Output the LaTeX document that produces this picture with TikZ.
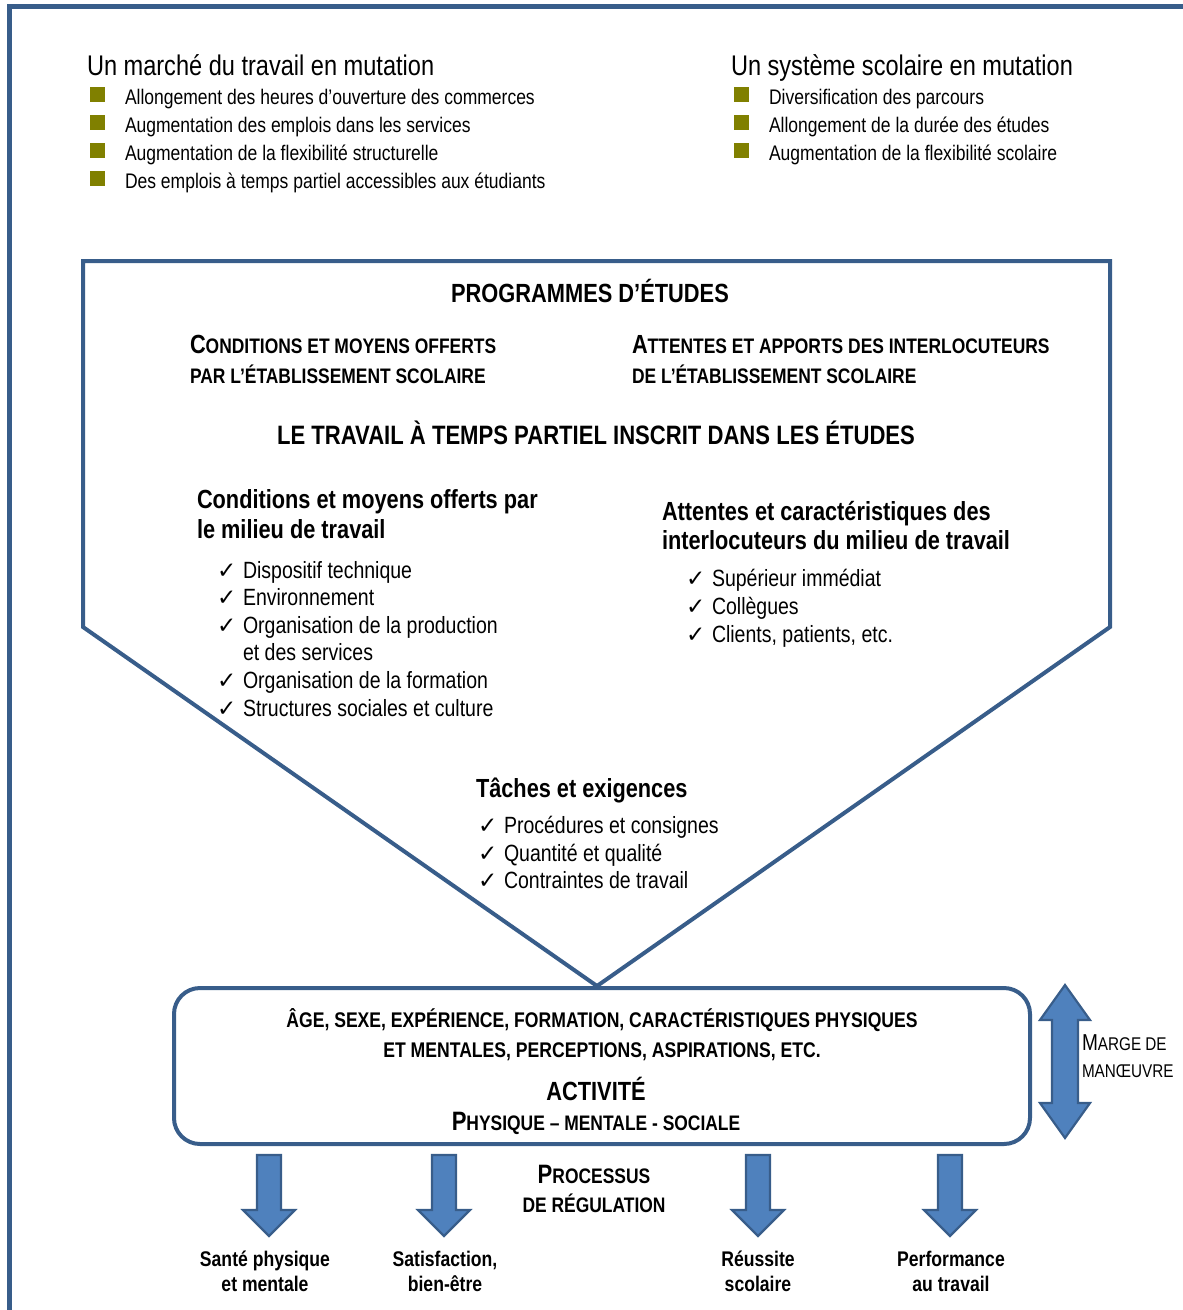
\documentclass[tikz,border=0pt]{standalone}
\usepackage{fontspec}
\setmainfont{Liberation Sans}[FakeStretch=0.83]
\newfontfamily\symfont{DejaVu Sans Bold}
\definecolor{frameblue}{RGB}{56,93,138}
\definecolor{fillblue}{RGB}{79,129,189}
\definecolor{bulletolive}{RGB}{128,128,0}
\newcommand\fs[2]{\fontsize{#1}{#2}\selectfont}
\newcommand\lowcaps[1]{{\fontsize{21}{25}\selectfont #1}}
\newcommand\chk{\makebox[26pt][l]{\symfont\fontsize{23}{24}\selectfont ✓}}
\tikzset{
  txt/.style={inner sep=0pt, outer sep=0pt, text=black},
  sqbullet/.style={fill=bulletolive, minimum size=15pt, inner sep=0pt},
  bullettext/.style={txt, anchor=base west, font=\fs{21.1}{24}},
  listitem/.style={txt, anchor=base west, font=\fs{23.5}{27}},
  heading/.style={txt, anchor=base west, font=\bfseries\fs{26.2}{30}},
  outcome/.style={txt, anchor=base, font=\bfseries\fs{21.2}{25}},
  blockarrow/.style={draw=frameblue, fill=fillblue, line width=2.2pt, line join=miter},
}
% block arrow pointing down, centred on x
\newcommand\blockdown[1]{%
  \draw[blockarrow] (#1-12,1155) -- (#1+12,1155) -- (#1+12,1210) -- (#1+26,1210)
    -- (#1,1236) -- (#1-26,1210) -- (#1-12,1210) -- cycle;}
\begin{document}
\begin{tikzpicture}[x=1pt,y=-1pt]
\useasboundingbox (0,0) rectangle (1183,1310);

% outer frame (open at right and bottom)
\draw[frameblue, line width=5pt] (9,1315) -- (9,6) -- (1190,6);

% ---- labour market column ----
\node[txt, anchor=base west, font=\fs{28.4}{32}] (lmt) at (87,75) {Un marché du travail en mutation};
\node[sqbullet] (lb1) at (97,94) {};
\node[sqbullet] (lb2) at (97,122) {};
\node[sqbullet] (lb3) at (97,150) {};
\node[sqbullet] (lb4) at (97,178) {};
\node[bullettext] (lt1) at (125,104) {Allongement des heures d’ouverture des commerces};
\node[bullettext] (lt2) at (125,132) {Augmentation des emplois dans les services};
\node[bullettext] (lt3) at (125,160) {Augmentation de la flexibilité structurelle};
\node[bullettext] (lt4) at (125,188) {Des emplois à temps partiel accessibles aux étudiants};

% ---- school system column ----
\node[txt, anchor=base west, font=\fs{28.4}{32}] (sst) at (731,75) {Un système scolaire en mutation};
\node[sqbullet] (sb1) at (741,94) {};
\node[sqbullet] (sb2) at (741,122) {};
\node[sqbullet] (sb3) at (741,150) {};
\node[bullettext] (st1) at (769,104) {Diversification des parcours};
\node[bullettext] (st2) at (769,132) {Allongement de la durée des études};
\node[bullettext] (st3) at (769,160) {Augmentation de la flexibilité scolaire};

% ---- funnel ----
\draw[frameblue, line width=4pt, line join=miter]
  (83,261) -- (1110,261) -- (1110,627) -- (597,986) -- (83,627) -- cycle;

\node[txt, anchor=base, font=\bfseries\fs{26.3}{30}] (prog) at (590,302) {PROGRAMMES D’ÉTUDES};
\node[heading] (cm1) at (190,353) {C\lowcaps{ONDITIONS ET MOYENS OFFERTS}};
\node[heading] (cm2) at (190,383) {\lowcaps{PAR L’ÉTABLISSEMENT SCOLAIRE}};
\node[heading] (aa1) at (632,353) {A\lowcaps{TTENTES ET APPORTS DES INTERLOCUTEURS}};
\node[heading] (aa2) at (632,383) {\lowcaps{DE L’ÉTABLISSEMENT SCOLAIRE}};
\node[txt, anchor=base, font=\bfseries\fs{26.6}{30}] (trav) at (596,444) {LE TRAVAIL À TEMPS PARTIEL INSCRIT DANS LES ÉTUDES};

\node[heading] (cw1) at (197,508) {Conditions et moyens offerts par};
\node[heading] (cw2) at (197,538) {le milieu de travail};
\node[listitem] (cl1) at (217,578) {\chk Dispositif technique};
\node[listitem] (cl2) at (217,605) {\chk Environnement};
\node[listitem] (cl3) at (217,633) {\chk Organisation de la production};
\node[listitem] (cl3b) at (243,660) {et des services};
\node[listitem] (cl4) at (217,688) {\chk Organisation de la formation};
\node[listitem] (cl5) at (217,716) {\chk Structures sociales et culture};

\node[heading] (ai1) at (662,520) {Attentes et caractéristiques des};
\node[heading] (ai2) at (662,549) {interlocuteurs du milieu de travail};
\node[listitem] (al1) at (686,586) {\chk Supérieur immédiat};
\node[listitem] (al2) at (686,614) {\chk Collègues};
\node[listitem] (al3) at (686,642) {\chk Clients, patients, etc.};

\node[heading] (te) at (476,797) {Tâches et exigences};
\node[listitem] (tl1) at (478,833) {\chk Procédures et consignes};
\node[listitem] (tl2) at (478,861) {\chk Quantité et qualité};
\node[listitem] (tl3) at (478,888) {\chk Contraintes de travail};

% ---- activity box ----
\node[draw=frameblue, line width=4pt, rounded corners=26pt, minimum width=856pt,
      minimum height=156pt, inner sep=0pt] (act) at (602,1066) {};
\node[txt, anchor=base, font=\bfseries\fs{21.2}{25}] (ag1) at (602,1027) {ÂGE, SEXE, EXPÉRIENCE, FORMATION, CARACTÉRISTIQUES PHYSIQUES};
\node[txt, anchor=base, font=\bfseries\fs{21.2}{25}] (ag2) at (602,1057) {ET MENTALES, PERCEPTIONS, ASPIRATIONS, ETC.};
\node[txt, anchor=base, font=\bfseries\fs{26.3}{30}] (acti) at (596,1100) {ACTIVITÉ};
\node[txt, anchor=base, font=\bfseries\fs{26.6}{30}] (phy) at (596,1130) {P\lowcaps{HYSIQUE – MENTALE - SOCIALE}};

% ---- room for manoeuvre ----
\draw[blockarrow] (1065,985) -- (1090,1020) -- (1078,1020) -- (1078,1103) -- (1090,1103)
  -- (1065,1138) -- (1040,1103) -- (1052,1103) -- (1052,1020) -- (1040,1020) -- cycle;
\node[txt, anchor=base west, font=\fs{23}{27}] (mg1) at (1082,1050) {M{\fs{18.4}{22}ARGE DE}};
\node[txt, anchor=base west, font=\fs{18.4}{22}] (mg2) at (1082,1077) {MANŒUVRE};

% ---- regulation and outcomes ----
\node[txt, anchor=base, font=\bfseries\fs{26.6}{30}] (pr1) at (594,1183) {P\lowcaps{ROCESSUS}};
\node[txt, anchor=base, font=\bfseries\fs{26.6}{30}] (pr2) at (594,1212) {\lowcaps{DE RÉGULATION}};

\blockdown{269}
\blockdown{444}
\blockdown{758}
\blockdown{950}

\node[outcome] (o1a) at (265,1266) {Santé physique};
\node[outcome] (o1b) at (265,1291) {et mentale};
\node[outcome] (o2a) at (445,1266) {Satisfaction,};
\node[outcome] (o2b) at (445,1291) {bien-être};
\node[outcome] (o3a) at (758,1266) {Réussite};
\node[outcome] (o3b) at (758,1291) {scolaire};
\node[outcome] (o4a) at (951,1266) {Performance};
\node[outcome] (o4b) at (951,1291) {au travail};
\end{tikzpicture}
\end{document}
